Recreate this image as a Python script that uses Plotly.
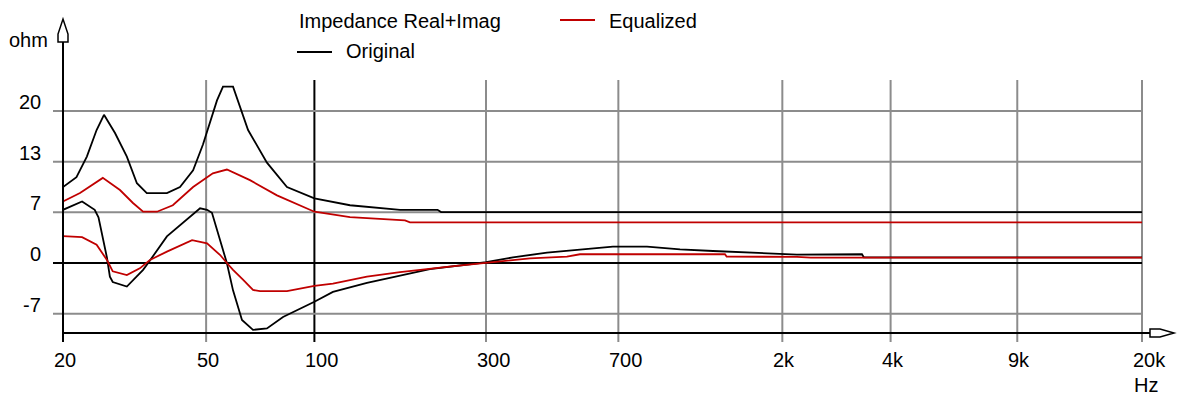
import math
import plotly.graph_objects as go

# Frequency ticks (Hz) and their labels
x_ticks = [20, 50, 100, 300, 700, 2000, 4000, 9000, 20000]
x_tick_text = ["20", "50", "100", "300", "700", "2k", "4k", "9k", "20k"]

# Impedance ticks (ohm) and their labels
y_ticks = [-20 / 3, 0, 20 / 3, 40 / 3, 20]
y_tick_text = ["-7", "0", "7", "13", "20"]

# Original driver: real part
orig_re_f = [20, 21.8, 23.3, 24.8, 26.0, 27.9, 30.1, 32.1, 34.2, 38.9, 42.3, 46.0, 49.0,
             53.6, 55.7, 59.4, 65.4, 73.8, 83.9, 100, 125.6, 173, 220, 225, 20000]
orig_re = [10.0, 11.3, 14.0, 17.5, 19.5, 17.1, 14.0, 10.5, 9.2, 9.2, 10.0, 12.2, 15.6,
           21.4, 23.2, 23.2, 17.5, 13.2, 10.0, 8.5, 7.6, 7.0, 7.0, 6.7, 6.7]

# Original driver: imaginary part
orig_im_f = [20, 22.6, 24.5, 25.1, 26.5, 27.0, 27.5, 30.1, 33.4, 34.5, 38.9, 43.1, 48.1,
             50.3, 51.9, 57.1, 59.4, 62.9, 67.5, 73.8, 81.8, 100, 112.6, 140, 173, 209.4,
             300, 356.5, 443.4, 547.5, 676, 841, 1039, 1283, 1767, 2196, 3330, 3370, 20000]
orig_im = [7.0, 8.1, 7.0, 6.0, 0.7, -1.8, -2.5, -3.1, -0.9, 0.0, 3.5, 5.3, 7.2,
           7.0, 6.6, 0.0, -3.6, -7.5, -8.8, -8.6, -7.1, -5.1, -3.8, -2.6, -1.7, -0.8,
           0.1, 0.75, 1.36, 1.8, 2.15, 2.15, 1.8, 1.58, 1.27, 1.1, 1.15, 0.75, 0.75]

# Equalized driver: real part
eq_re_f = [20, 22.3, 25.8, 28.8, 31.3, 33.4, 36.5, 40.4, 46.0, 52.2, 57.1, 66.2, 78.7,
           91.2, 100, 125.6, 149.3, 178.6, 184.4, 20000]
eq_re = [8.1, 9.2, 11.2, 9.6, 7.9, 6.75, 6.75, 7.6, 10.0, 11.8, 12.3, 10.9, 8.9,
         7.6, 6.75, 6.05, 5.8, 5.6, 5.35, 5.35]

# Equalized driver: imaginary part
eq_im_f = [20, 22.6, 24.8, 26.5, 27.5, 30.1, 32.7, 34.2, 34.9, 38.9, 45.7, 50.3, 54.7,
           57.1, 59.4, 63.3, 67.5, 70.6, 83.9, 100, 112.6, 140, 173, 233.7, 300, 397.6,
           503.6, 547.5, 1385, 1400, 2196, 2400, 20000]
eq_im = [3.55, 3.4, 2.4, 0.4, -1.1, -1.6, -0.7, 0.1, 0.4, 1.5, 3.0, 2.6, 1.05,
         0.0, -0.9, -2.2, -3.55, -3.7, -3.7, -3.0, -2.7, -1.8, -1.2, -0.5, 0.05, 0.6,
         0.83, 1.15, 1.15, 0.85, 0.8, 0.7, 0.7]

BLACK = "#000000"
RED = "#c00000"
GRID = "#8c8c8c"
FONT = dict(family="Liberation Sans, Arial, sans-serif", size=20, color="#000000")

# canvas and plot-area geometry (pixels)
WIDTH, HEIGHT = 1180, 401
L, R, T, B = 63, 1142, 80, 333
PW, PH = R - L, B - T
F_MIN, F_MAX = 20, 20000
Y_MIN, Y_MAX = -9.21, 24.08


def px(x):
    return (x - L) / PW


def py(y):
    return (B - y) / PH


def fx(f):
    # frequency -> paper x on the log axis
    return (math.log10(f) - math.log10(F_MIN)) / (math.log10(F_MAX) - math.log10(F_MIN))


fig = go.Figure()
for f, v, color in [(orig_re_f, orig_re, BLACK), (eq_re_f, eq_re, RED),
                    (orig_im_f, orig_im, BLACK), (eq_im_f, eq_im, RED)]:
    fig.add_trace(go.Scatter(x=f, y=v, mode="lines", line=dict(color=color, width=1.8),
                             hoverinfo="skip", showlegend=False))

shapes = []
# vertical grid lines (extend below the axis as ticks)
for f in x_ticks[1:]:
    shapes.append(dict(type="line", xref="paper", yref="paper", x0=fx(f), x1=fx(f),
                       y0=py(342), y1=1, layer="below",
                       line=dict(color=BLACK if f == 100 else GRID, width=2)))
# horizontal grid lines (extend left of the axis as ticks)
for v in y_ticks:
    shapes.append(dict(type="line", xref="paper", yref="y", x0=px(53), x1=1, y0=v, y1=v,
                       layer="below", line=dict(color=BLACK if v == 0 else GRID, width=2)))
# axes
shapes.append(dict(type="line", xref="paper", yref="paper", x0=0, x1=px(1150), y0=0, y1=0,
                   line=dict(color=BLACK, width=2)))
shapes.append(dict(type="line", xref="paper", yref="paper", x0=0, x1=0, y0=py(342), y1=py(42),
                   line=dict(color=BLACK, width=2)))


def path(points):
    return "M " + " L ".join(f"{px(x):.5f},{py(y):.5f}" for x, y in points) + " Z"


# axis arrow heads
shapes.append(dict(type="path", xref="paper", yref="paper",
                   path=path([(1150, 329), (1160, 329), (1174, 333), (1160, 337), (1150, 337)]),
                   fillcolor="white", line=dict(color=BLACK, width=1.5)))
shapes.append(dict(type="path", xref="paper", yref="paper",
                   path=path([(58, 42), (58, 34), (63, 19), (68, 34), (68, 42)]),
                   fillcolor="white", line=dict(color=BLACK, width=1.5)))
# legend line samples
shapes.append(dict(type="line", xref="paper", yref="paper", x0=px(560), x1=px(595),
                   y0=py(20), y1=py(20), line=dict(color=RED, width=2)))
shapes.append(dict(type="line", xref="paper", yref="paper", x0=px(297), x1=px(332),
                   y0=py(52), y1=py(52), line=dict(color=BLACK, width=2)))

annotations = []
for f, t in zip(x_ticks, x_tick_text):
    annotations.append(dict(xref="paper", yref="paper", x=fx(f), y=0, text=t, xanchor="left",
                            yanchor="middle", xshift=-11, yshift=-27, showarrow=False, font=FONT))
for v, t in zip(y_ticks, y_tick_text):
    annotations.append(dict(xref="paper", yref="y", x=0, y=v, text=t, xanchor="right",
                            yanchor="middle", xshift=-20, yshift=9, showarrow=False, font=FONT))


def label(text, left, center_y):
    return dict(xref="paper", yref="paper", x=px(left - 1), y=py(center_y), text=text,
                xanchor="left", yanchor="middle", showarrow=False, font=FONT)


annotations += [
    label("ohm", 8, 40),
    label("Hz", 1133, 385),
    label("Impedance Real+Imag", 298, 21),
    label("Equalized", 608, 21),
    label("Original", 345, 51),
]

fig.update_layout(
    width=WIDTH, height=HEIGHT,
    margin=dict(l=L, r=WIDTH - R, t=T, b=HEIGHT - B, pad=0),
    paper_bgcolor="white", plot_bgcolor="white",
    xaxis=dict(type="log", range=[math.log10(F_MIN), math.log10(F_MAX)], visible=False),
    yaxis=dict(range=[Y_MIN, Y_MAX], visible=False),
    shapes=shapes, annotations=annotations, showlegend=False,
)

fig.write_html("out.html")
